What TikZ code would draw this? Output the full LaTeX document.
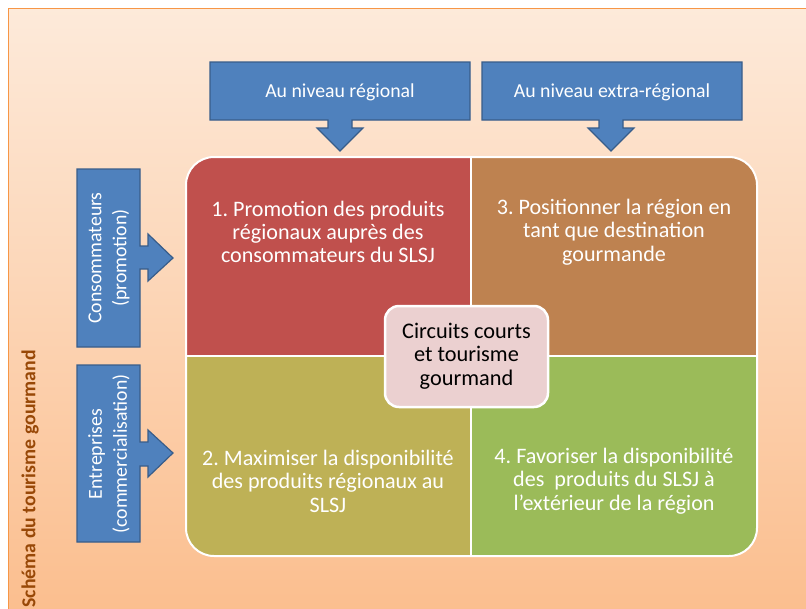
\documentclass[tikz,border=0pt]{standalone}
\usepackage{fontspec}
\setmainfont{Carlito}
\frenchspacing
\definecolor{bgtop}{RGB}{253,234,218}
\definecolor{bgbot}{RGB}{251,190,142}
\definecolor{frameor}{RGB}{247,150,70}
\definecolor{calblue}{RGB}{79,129,189}
\definecolor{calborder}{RGB}{56,93,138}
\definecolor{qred}{RGB}{192,80,77}
\definecolor{qbrown}{RGB}{190,130,80}
\definecolor{qolive}{RGB}{190,177,86}
\definecolor{qgreen}{RGB}{155,187,89}
\definecolor{centerfill}{RGB}{235,208,208}
\definecolor{labelbrown}{RGB}{152,72,7}
\begin{document}
\frenchspacing
\begin{tikzpicture}[x=1pt,y=-1pt,
  callout/.style={fill=calblue,draw=calborder,line width=1.2pt,line join=miter},
  caltext/.style={text=white,font=\fontsize{19.8}{25}\selectfont,inner sep=0pt,align=center},
  quadtext/.style={text=white,font=\fontsize{22.1}{23.4}\selectfont\frenchspacing,inner sep=0pt,align=center},
  centertext/.style={text=black,font=\fontsize{22.3}{23.5}\selectfont,inner sep=0pt,align=center}]
\useasboundingbox (0,0) rectangle (806,608);
\fill[white] (0,0) rectangle (806,608);
% background frame
\shade[top color=bgtop,bottom color=bgbot] (8,8) rectangle (812,614);
\draw[frameor,line width=1pt] (8,614) -- (8,8) -- (812,8);
% top callouts
\draw[callout] (210,62) -- (470,62) -- (470,120) -- (352,120) -- (352,128) -- (363,128) -- (340,151) -- (317,128) -- (328,128) -- (328,120) -- (210,120) -- cycle;
\draw[callout] (482,62) -- (742,62) -- (742,120) -- (623,120) -- (623,128) -- (634,128) -- (611,151) -- (588,128) -- (599,128) -- (599,120) -- (482,120) -- cycle;
\node[caltext] (top1) at (340,92) {Au niveau régional};
\node[caltext] (top2) at (612,92) {Au niveau extra-régional};
% left callouts
\draw[callout] (77,169) -- (140,169) -- (140,246) -- (148,246) -- (148,234) -- (173,258) -- (148,281) -- (148,269) -- (140,269) -- (140,347) -- (77,347) -- cycle;
\draw[callout] (77,365) -- (140,365) -- (140,442) -- (148,442) -- (148,430) -- (173,453) -- (148,477) -- (148,466) -- (140,466) -- (140,542) -- (77,542) -- cycle;
\node[caltext,rotate=90] (left1) at (109,258) {Consommateurs\\(promotion)};
\node[caltext,rotate=90] (left2) at (109,454) {Entreprises\\(commercialisation)};
% matrix
\begin{scope}
\clip[rounded corners=28pt] (186,157) rectangle (757,556);
\fill[qred] (186,157) rectangle (471,356);
\fill[qbrown] (471,157) rectangle (757,356);
\fill[qolive] (186,356) rectangle (471,556);
\fill[qgreen] (471,356) rectangle (757,556);
\end{scope}
\draw[white,line width=2pt] (471,157) -- (471,556);
\draw[white,line width=2pt] (186,356) -- (757,356);
\draw[white,line width=2pt,rounded corners=28pt] (186,157) rectangle (757,556);
\node[quadtext] (q1) at (328,232) {1. Promotion des produits\\régionaux auprès des\\consommateurs du SLSJ};
\node[quadtext] (q3) at (614,232) {3. Positionner la région en\\tant que destination\\gourmande};
\node[quadtext] (q2) at (328,481) {2. Maximiser la disponibilité\\des produits régionaux au\\SLSJ};
\node[quadtext] (q4) at (614,481) {4. Favoriser la disponibilité\\des\ \ produits du SLSJ à\\l’extérieur de la région};
% center
\draw[fill=centerfill,draw=white,line width=2.5pt,rounded corners=14pt] (385,306) rectangle (548,407);
\node[centertext] (center) at (466.5,356) {Circuits courts\\et tourisme\\gourmand};
% side label
\node[rotate=90,anchor=east,inner sep=0pt,text=labelbrown,font=\bfseries\fontsize{19.8}{22}\selectfont] (side) at (30,350) {Schéma du tourisme gourmand};
\end{tikzpicture}
\end{document}
